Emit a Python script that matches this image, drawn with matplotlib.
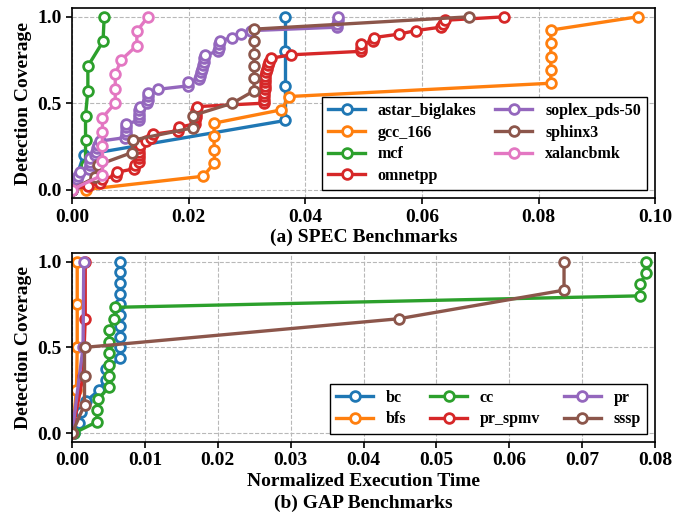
import matplotlib
matplotlib.use('Agg')
import matplotlib.pyplot as plt

plt.rcParams['font.family'] = ['Liberation Serif', 'DejaVu Serif']
plt.rcParams['font.weight'] = 'bold'

# ---- SPEC benchmarks (normalized time, coverage) ----
astar_x = [0.0, 0.0020, 0.0366, 0.0366, 0.0366, 0.0366]
astar_y = [0.0, 0.2, 0.4, 0.6, 0.8, 1.0]

gcc_x = [0.0024, 0.0225, 0.0244, 0.0244, 0.0243, 0.0244, 0.0359, 0.0372,
         0.0821, 0.0821, 0.0821, 0.0821, 0.0821, 0.0970]
gcc_y = [k / 13 for k in range(14)]

mcf_x = [0.0, 0.0023, 0.0023, 0.0023, 0.0027, 0.0027, 0.0053, 0.0055]
mcf_y = [k / 7 for k in range(8)]

omnetpp_x = [0.0, 0.0028, 0.0047, 0.0052, 0.0075, 0.0077, 0.0106, 0.0108,
             0.0114, 0.0114, 0.0114, 0.0115, 0.0115, 0.0116, 0.0127, 0.0136,
             0.0139, 0.0181, 0.0183, 0.0210, 0.0211, 0.0212, 0.0212, 0.0213,
             0.0214, 0.0329, 0.0329, 0.0329, 0.0329, 0.0330, 0.0330, 0.0330,
             0.0331, 0.0331, 0.0332, 0.0334, 0.0336, 0.0338, 0.0341, 0.0375,
             0.0495, 0.0495, 0.0496, 0.0516, 0.0518, 0.0561, 0.0589, 0.0632,
             0.0636, 0.0639, 0.0741]
omnetpp_y = [k / 50 for k in range(51)]

soplex_x = [0.0, 0.0002, 0.0004, 0.0008, 0.0010, 0.0013, 0.0029, 0.0030,
            0.0030, 0.0031, 0.0040, 0.0041, 0.0043, 0.0044, 0.0047, 0.0090,
            0.0092, 0.0093, 0.0093, 0.0093, 0.0115, 0.0115, 0.0115, 0.0115,
            0.0116, 0.0129, 0.0130, 0.0130, 0.0131, 0.0147, 0.0198, 0.0199,
            0.0217, 0.0219, 0.0221, 0.0223, 0.0225, 0.0227, 0.0227, 0.0228,
            0.0251, 0.0252, 0.0252, 0.0253, 0.0274, 0.0289, 0.0306, 0.0455,
            0.0455, 0.0456, 0.0456]
soplex_y = [k / 50 for k in range(51)]

sphinx_x = [0.0, 0.0040, 0.0045, 0.0103, 0.0104, 0.0207, 0.0207, 0.0275,
            0.0312, 0.0312, 0.0312, 0.0312, 0.0312, 0.0312, 0.0681]
sphinx_y = [k / 14 for k in range(15)]

xalan_x = [0.0, 0.0052, 0.0052, 0.0052, 0.0052, 0.0052, 0.0074, 0.0074,
           0.0074, 0.0084, 0.0111, 0.0111, 0.0130]
xalan_y = [k / 12 for k in range(13)]

spec = [
    ('astar_biglakes', astar_x, astar_y),
    ('gcc_166', gcc_x, gcc_y),
    ('mcf', mcf_x, mcf_y),
    ('omnetpp', omnetpp_x, omnetpp_y),
    ('soplex_pds-50', soplex_x, soplex_y),
    ('sphinx3', sphinx_x, sphinx_y),
    ('xalancbmk', xalan_x, xalan_y),
]

# ---- GAP benchmarks ----
bc_x = [0.0002, 0.0010, 0.0012, 0.0019, 0.0037, 0.0046, 0.0047, 0.0066,
        0.0066, 0.0066, 0.0066, 0.0066, 0.0066, 0.0066, 0.0066, 0.0066, 0.0066]
bc_y = [k / 16 for k in range(17)]

bfs_x = [0.0, 0.0006, 0.0007, 0.0007, 0.0007]
bfs_y = [0.0, 0.25, 0.5, 0.75, 1.0]

cc_x = [0.0002, 0.0034, 0.0034, 0.0036, 0.0050, 0.0050, 0.0050, 0.0050,
        0.0050, 0.0051, 0.0058, 0.0059, 0.0779, 0.0779, 0.0788, 0.0788]
cc_y = [k / 15 for k in range(16)]

pr_x = [0.0, 0.0015, 0.0016]
pr_y = [0.0, 0.5, 1.0]

prspmv_x = [0.0, 0.0015, 0.0018, 0.0018]
prspmv_y = [0.0, 1 / 3, 2 / 3, 1.0]

sssp_x = [0.0, 0.0017, 0.0017, 0.0017, 0.0448, 0.0675, 0.0675]
sssp_y = [k / 6 for k in range(7)]

gap = [
    ('bc', bc_x, bc_y),
    ('bfs', bfs_x, bfs_y),
    ('cc', cc_x, cc_y),
    ('pr_spmv', prspmv_x, prspmv_y),
    ('pr', pr_x, pr_y),
    ('sssp', sssp_x, sssp_y),
]
gap_colors = ['tab:blue', 'tab:orange', 'tab:green', 'tab:red', 'tab:purple', 'tab:brown']

fig = plt.figure(figsize=(6.74, 5.12), dpi=100)
ax1 = fig.add_axes([0.107, 0.613, 0.865, 0.371])
ax2 = fig.add_axes([0.107, 0.137, 0.865, 0.369])

style = dict(marker='o', markersize=7, markerfacecolor='white',
             markeredgewidth=2, linewidth=2.4)

for name, xs, ys in spec:
    ax1.plot(xs, ys, label=name, **style)

for (name, xs, ys), c in zip(gap, gap_colors):
    ax2.plot(xs, ys, label=name, color=c, **style)

ax1.set_xlim(0, 0.1)
ax1.set_xticks([0.0, 0.02, 0.04, 0.06, 0.08, 0.10])
ax1.set_xticklabels(['0.00', '0.02', '0.04', '0.06', '0.08', '0.10'])
ax1.set_xlabel('(a) SPEC Benchmarks', fontsize=14, fontweight='bold', labelpad=2)

ax2.set_xlim(0, 0.08)
ax2.set_xticks([0.01 * i for i in range(9)])
ax2.set_xticklabels(['%.2f' % (0.01 * i) for i in range(9)])
ax2.set_xlabel('Normalized Execution Time\n(b) GAP Benchmarks', fontsize=14,
               fontweight='bold', labelpad=3, linespacing=1.3)

for ax in (ax1, ax2):
    ax.set_ylim(-0.05, 1.05)
    ax.set_yticks([0.0, 0.5, 1.0])
    ax.set_yticklabels(['0.0', '0.5', '1.0'])
    ax.set_ylabel('Detection Coverage', fontsize=14, fontweight='bold', labelpad=4)
    ax.grid(True, linestyle='--', color='#b8b8b8', linewidth=0.8)
    ax.tick_params(labelsize=14, width=1.2, length=4)
    for lab in ax.get_xticklabels() + ax.get_yticklabels():
        lab.set_fontweight('bold')
    for s in ax.spines.values():
        s.set_linewidth(1.2)

leg_kw = dict(fancybox=False, framealpha=1, edgecolor='black',
              prop={'weight': 'bold', 'size': 11.5}, handlelength=2.3,
              borderaxespad=0.5)
l1 = ax1.legend(loc='lower right', ncol=2, labelspacing=0.35, columnspacing=1.2, **leg_kw)
l2 = ax2.legend(loc='lower right', ncol=3, labelspacing=0.35, columnspacing=1.5, **leg_kw)

fig.savefig('out.png', dpi=100)
